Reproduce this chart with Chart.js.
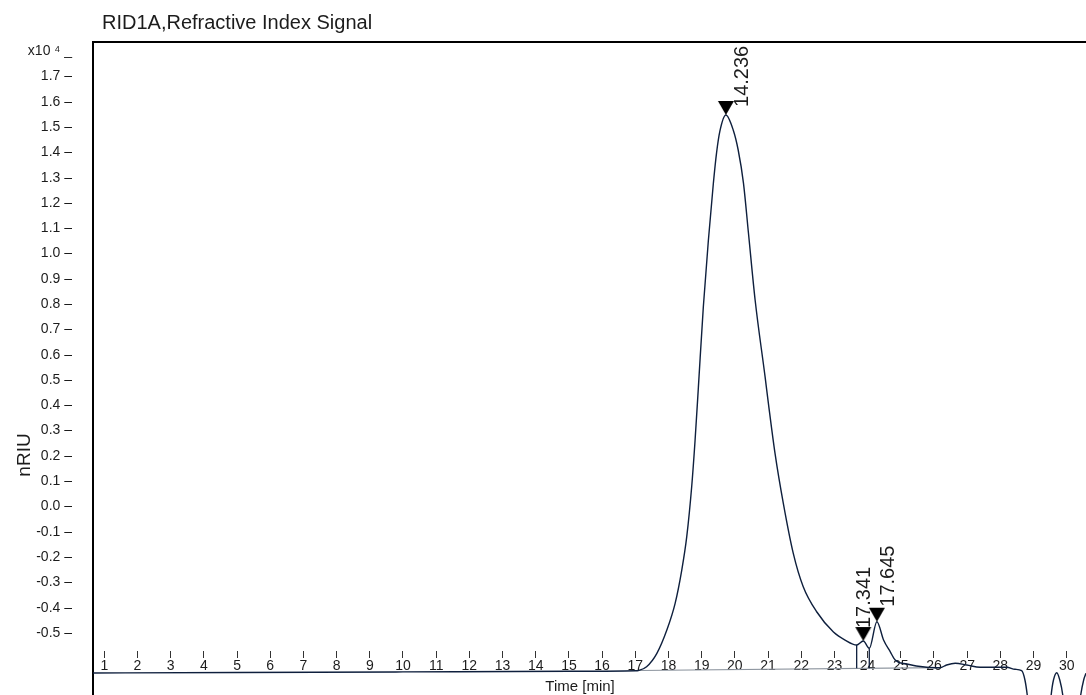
<!DOCTYPE html>
<html><head><meta charset="utf-8">
<script src="https://cdn.jsdelivr.net/npm/chart.js@4.4.1/dist/chart.umd.min.js"></script>
<style>html,body{margin:0;padding:0;background:#fff}#wrap{width:1086px;height:695px;position:relative}</style>
</head><body><div id="wrap"><canvas id="c"></canvas></div>
<script>
// ---- data ----
const chartTitle = 'RID1A,Refractive Index Signal';
const yAxisTitle = 'nRIU';
const xAxisTitle = 'Time [min]';
const xTickValues = [1,2,3,4,5,6,7,8,9,10,11,12,13,14,15,16,17,18,19,20,21,22,23,24,25,26,27,28,29,30];
const yTickValues = [-5000,-4000,-3000,-2000,-1000,0,1000,2000,3000,4000,5000,6000,7000,8000,9000,10000,11000,12000,13000,14000,15000,16000,17000,18000];
const yExponentLabel = 'x10 \u2074 _';
const signalTimes = [0.66,5,10,15,17,17.09,17.34,17.65,17.95,18.2,18.4,18.55,18.7,18.8,18.9,19.05,19.2,19.35,19.45,19.55,19.73,19.95,20.1,20.26,20.41,20.61,20.91,21.01,21.21,21.46,21.76,22.06,22.47,22.97,23.32,23.67,23.87,24.05,24.28,24.48,24.68,24.83,25.18,25.78,26.18,26.38,26.64,26.99,27.39,28.19,28.44,28.64,28.74,28.81,28.89,29.2,29.41,29.53,29.6,29.7,29.79,29.88,29.98,30.13,30.28,30.42,30.51,30.58];
const signalValues = [-6583,-6564,-6540,-6516,-6496,-6485,-6334,-5804,-4883,-3827,-2511,-1194,800,2600,4700,7900,10500,12750,14000,14850,15480,14887,14096,12779,10802,8165,5132,4081,2104,127,-1850,-3171,-4171,-4962,-5279,-5476,-5318,-5607,-4555,-5279,-5741,-6069,-6228,-6358,-6374,-6267,-6200,-6267,-6358,-6358,-6437,-6492,-6860,-7453,-8442,-10023,-9233,-7453,-6860,-6571,-6860,-7453,-8837,-10023,-8837,-7453,-6860,-6595];
const baselineTimes = [17.09, 26.18];
const baselineValues = [-6485, -6374];
const dropTimes = [23.67, 24.05];
const dropTopValues = [-5476, -5607];
const dropBottomValues = [-6400, -6397];
const peakTimes = [19.73, 23.87, 24.28];
const peakValues = [15480, -5318, -4555];
const peakLabels = ['14.236', '17.341', '17.645'];

// ---- styles ----
const FONT = "'Liberation Sans', Arial, sans-serif";
const lineColor = '#0e1f3d';
const textColor = '#1c1c1c';

// downward triangle marker, tip at the image centre
function makeMarker() {
  const c = document.createElement('canvas');
  c.width = 18; c.height = 30;
  const g = c.getContext('2d');
  g.fillStyle = '#000';
  g.beginPath(); g.moveTo(1, 1); g.lineTo(17, 1); g.lineTo(9, 15); g.closePath(); g.fill();
  return c;
}
const marker = makeMarker();

function noPad(s) { s.paddingLeft = 0; s.paddingRight = 0; s.paddingTop = 0; s.paddingBottom = 0; }

const textPlugin = {
  id: 'texts',
  afterDatasetsDraw(chart, args, opts) {
    const ctx = chart.ctx;
    ctx.save();
    ctx.fillStyle = textColor;
    ctx.textBaseline = 'alphabetic';
    ctx.font = '20px ' + FONT;
    ctx.textAlign = 'left';
    ctx.fillText(chartTitle, 102, 29);
    ctx.font = '15px ' + FONT;
    ctx.textAlign = 'center';
    ctx.fillText(xAxisTitle, 580, 691);
    ctx.save();
    ctx.translate(30, 455);
    ctx.rotate(-Math.PI / 2);
    ctx.font = '19px ' + FONT;
    ctx.textAlign = 'center';
    ctx.fillText(yAxisTitle, 0, 0);
    ctx.restore();
    const meta = chart.getDatasetMeta(opts.markerIndex);
    ctx.font = '20px ' + FONT;
    ctx.textAlign = 'left';
    meta.data.forEach((pt, i) => {
      const off = opts.offsets[i];
      ctx.save();
      ctx.translate(pt.x + off[0], pt.y + off[1]);
      ctx.rotate(-Math.PI / 2);
      ctx.fillText(peakLabels[i], 0, 0);
      ctx.restore();
    });
    ctx.restore();
  }
};

const datasets = [
  {
    label: 'baseline', order: 4,
    data: baselineTimes.map((t, i) => ({x: t, y: baselineValues[i]})),
    borderColor: '#8c949e', borderWidth: 1.2, pointRadius: 0
  },
  {
    label: 'signal', order: 2,
    data: signalTimes.map((t, i) => ({x: t, y: signalValues[i]})),
    borderColor: lineColor, borderWidth: 1.4, pointRadius: 0,
    cubicInterpolationMode: 'monotone'
  }
];
dropTimes.forEach((t, i) => {
  datasets.push({
    label: 'drop' + i, order: 3,
    data: [{x: t, y: dropTopValues[i]}, {x: t, y: dropBottomValues[i]}],
    borderColor: lineColor, borderWidth: 1.3, pointRadius: 0
  });
});
datasets.push({
  label: 'peaks', order: 1, showLine: false,
  data: peakTimes.map((t, i) => ({x: t, y: peakValues[i]})),
  pointStyle: marker, pointRadius: 9
});
const markerIndex = datasets.length - 1;

new Chart(document.getElementById('c'), {
  type: 'line',
  data: { datasets },
  plugins: [textPlugin],
  options: {
    responsive: true, maintainAspectRatio: false, animation: false, events: [],
    layout: { autoPadding: false, padding: { top: 42, left: 0, right: 0, bottom: 0 } },
    plugins: {
      legend: { display: false }, tooltip: { enabled: false }, title: { display: false },
      texts: { markerIndex, offsets: [[22, -8], [7, -13], [17, -15]] }
    },
    scales: {
      x: {
        type: 'linear', min: 0.6596, max: 30.58,
        position: { y: -5714 },
        afterFit(s) { s.height = 0; noPad(s); },
        afterBuildTicks(s) { s.ticks = xTickValues.map(v => ({value: v})); },
        border: { display: false },
        grid: { drawOnChartArea: false, tickLength: 7, tickColor: '#333', tickWidth: 1 },
        ticks: { autoSkip: false, maxRotation: 0, padding: 0, color: textColor,
                 font: { family: FONT, size: 14 }, callback: v => String(v) }
      },
      x2: {
        type: 'linear', position: 'top', min: 0.6596, max: 30.58,
        afterFit(s) { s.height = 0; noPad(s); },
        grid: { display: false },
        ticks: { display: false },
        border: { display: true, color: '#000', width: 2 }
      },
      y: {
        type: 'linear', min: -7453, max: 18366,
        afterFit(s) { s.width = 93; noPad(s); },
        afterBuildTicks(s) { s.ticks = yTickValues.map(v => ({value: v})); },
        grid: { display: true, drawOnChartArea: false, drawTicks: true, tickLength: 21, tickColor: 'rgba(0,0,0,0)' },
        border: { display: true, color: '#000', width: 2 },
        ticks: { padding: 0, autoSkip: false, color: textColor, font: { family: FONT, size: 14 },
                 callback: v => v === 18000 ? yExponentLabel : (v / 10000).toFixed(1) + ' \u2013' }
      }
    }
  }
});
</script>
</body></html>
